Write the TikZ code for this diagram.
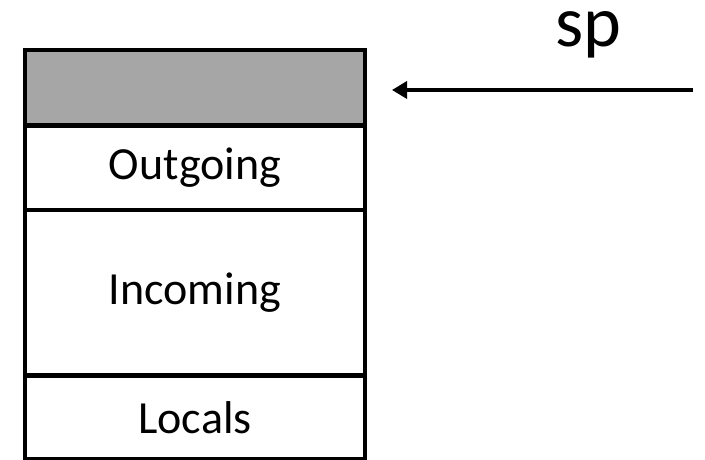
\documentclass[tikz,border=0pt]{standalone}
\usepackage{fontspec}
\setmainfont{Carlito}
\usetikzlibrary{arrows.meta}
\begin{document}
\begin{tikzpicture}[x=1pt,y=1pt,
  cell/.style={draw=black, line width=4.5pt, minimum width=340pt, inner sep=0pt, outer sep=0pt, font=\fontsize{46}{46}\selectfont},
  ptr/.style={line width=3.5pt, -{Triangle[length=15pt,width=17pt]}}]
\useasboundingbox (0,0) rectangle (705,460);
\node[cell, fill={rgb,255:red,166;green,166;blue,166}, minimum height=75.5pt] (top) at (195,372.25) {};
\node[cell, minimum height=84.5pt] (out) at (195,292) {Outgoing};
\node[cell, minimum height=165.5pt] (inc) at (195,167.25) {Incoming};
\node[cell, minimum height=84pt] (loc) at (195,42.5) {Locals};
\node[font=\fontsize{72}{72}\selectfont, anchor=base, inner sep=0pt, text height=34pt] (sp) at (588,413) {sp};
\coordinate (tail) at (693,370);
\coordinate (head) at (392,370);
\draw[ptr] (tail) -- (head);
\end{tikzpicture}
\end{document}
